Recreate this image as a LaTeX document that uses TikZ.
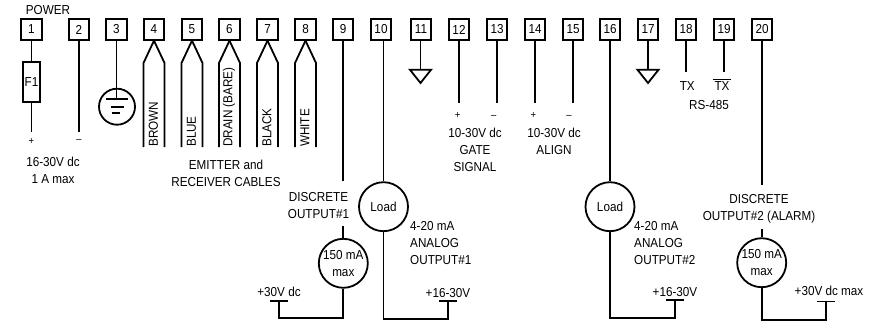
\documentclass[tikz,border=0pt]{standalone}
\usepackage{fontspec}
\setmainfont[FakeStretch=0.9]{Liberation Sans}
\usepackage{tikz}
\usetikzlibrary{calc}
\newcommand{\lbl}{\fontsize{13}{17}\selectfont}
\newcommand{\sgn}{\fontsize{10.5}{10.5}\selectfont}

\begin{document}
\begin{tikzpicture}[
		x=1pt, y=-1pt,
		wire/.style={line width=1.8pt, line join=miter},
		terminal/.style={draw, line width=1.8pt, minimum size=20.5pt, inner sep=0pt, font=\lbl},
		device/.style={draw, circle, line width=1.8pt, minimum size=49pt, inner sep=0pt, align=center, font=\lbl},
		txt/.style={inner sep=0pt, align=center, font=\lbl},
		txtl/.style={inner sep=0pt, align=left, font=\lbl}
	]
	\useasboundingbox (0,0) rectangle (872,329);

	\def\topY{29.5} % centre of the terminal row
	\def\barW{9} % half width of a supply bar

	% the terminals
	\foreach \n/\x in {1/31.5,2/79,3/116.5,4/154,5/192,6/229.5,7/267.5,8/305.5,9/343,10/381,
		11/421,12/459,13/497,14/535,15/573,16/610,17/648,18/686,19/724,20/762}
		\node[terminal] (t\n) at (\x,\topY) {\n};

	\node[txt] (power) at (48,10) {POWER};

	% power input
	\node[draw, line width=1.8pt, minimum width=17.5pt, minimum height=39.5pt, inner sep=0pt, font=\lbl] (fuse) at (31.5,82) {F1};
	\coordinate (end1) at (31.5,132);
	\coordinate (end2) at (79,132);
	\draw[wire] (t1.south) -- (fuse.north);
	\draw[wire] (fuse.south) -- (end1);
	\draw[wire] (t2.south) -- (end2);
	\node[txt] (plus1) at (31.5,141) {\sgn +};
	\node[txt] (minus2) at (79,141) {\sgn --};
	\node[txt] (supply) at (53,170) {16-30V dc\\1 A max};

	% earth
	\node[draw, circle, line width=1.8pt, minimum size=36pt, inner sep=0pt] (earth) at (117,106.7) {};
	\coordinate (bar3) at (116.5,99);
	\draw[wire] (t3.south) -- (bar3);
	\draw[wire] (106,99) -- (128.3,99);
	\draw[wire] (110.7,106.7) -- (124.3,106.7);
	\draw[wire] (111.7,113.3) -- (120,113.3);

	% the cable pairs
	\foreach \n/\x/\name in {4/154/BROWN,5/192/BLUE,6/229.5/DRAIN (BARE),7/267.5/BLACK,8/305.5/WHITE} {
		\coordinate (kl\n) at (\x-10.5,63);
		\coordinate (kr\n) at (\x+10.5,63);
		\coordinate (el\n) at (\x-10.5,147);
		\coordinate (er\n) at (\x+10.5,147);
		\draw[wire] (t\n.south) -- (kl\n) -- (el\n);
		\draw[wire] (t\n.south) -- (kr\n) -- (er\n);
		\node[txt, rotate=90, anchor=west] (name\n) at (\x-0.5,147) {\name};
	}
	\node[txt] (cables) at (226,173) {EMITTER and\\RECEIVER CABLES};

	% discrete output 1
	\node[device] (lim1) at (343.3,263.3) {150 mA\\max};
	\coordinate (gapA) at (343.3,181);
	\coordinate (gapB) at (343.3,226);
	\coordinate (corner1) at (343.3,318);
	\coordinate (supply1) at (279,318);
	\coordinate (bar1) at (279,300.7);
	\draw[wire] (t9.south) -- (t9.south |- gapA);
	\draw[wire] (gapB) -- (lim1.north);
	\draw[wire] (lim1.south) -- (corner1) -- (supply1) -- (bar1);
	\draw[wire] ($(bar1)+(-\barW,0)$) -- ($(bar1)+(\barW,0)$);
	\node[txt] (discA) at (318.5,205.5) {DISCRETE\\OUTPUT\#1};
	\node[txt] (volt1) at (279,292) {+30V dc};

	% analog output 1
	\node[device] (load1) at (383.5,206.7) {Load};
	\coordinate (corner2) at (383.5,319);
	\coordinate (supply2) at (448,319);
	\coordinate (bar2) at (448,301);
	\draw[wire] (load1.north |- t10.south) -- (load1.north);
	\draw[wire] (load1.south) -- (corner2) -- (supply2) -- (bar2);
	\draw[wire] ($(bar2)+(-\barW,0)$) -- ($(bar2)+(\barW,0)$);
	\node[txtl, anchor=west] (analogA) at (410,243.3) {4-20 mA\\ANALOG\\OUTPUT\#1};
	\node[txt] (volt2) at (448,293) {+16-30V};

	% grounds
	\foreach \n/\x in {11/420.5,17/648} {
		\coordinate (gl\n) at (\x-10.5,69.8);
		\coordinate (gr\n) at (\x+10.5,69.8);
		\coordinate (gt\n) at (\x,83);
		\draw[wire] (t\n.south -| gt\n) -- (\x,69.8);
		\draw[wire] (gl\n) -- (gr\n) -- (gt\n) -- cycle;
	}

	% gate and align inputs
	\foreach \n in {12,13,14,15} {
		\coordinate (end\n) at ($(t\n.south)+(0,62)$);
		\draw[wire] (t\n.south) -- (end\n);
	}
	\node[txt] (plus12) at (457.7,115.5) {\sgn +};
	\node[txt] (minus13) at (493.7,116.5) {\sgn --};
	\node[txt] (plus14) at (533.5,115.5) {\sgn +};
	\node[txt] (minus15) at (569,116.5) {\sgn --};
	\node[txt] (gate) at (475,149.5) {10-30V dc\\GATE\\SIGNAL};
	\node[txt] (align) at (554,141) {10-30V dc\\ALIGN};

	% analog output 2
	\node[device] (load2) at (610,206.7) {Load};
	\coordinate (corner3) at (610,318);
	\coordinate (supply3) at (675,318);
	\coordinate (bar4) at (675,300);
	\draw[wire] (t16.south) -- (load2.north);
	\draw[wire] (load2.south) -- (corner3) -- (supply3) -- (bar4);
	\draw[wire] ($(bar4)+(-\barW,0)$) -- ($(bar4)+(\barW,0)$);
	\node[txtl, anchor=west] (analogB) at (634,243.3) {4-20 mA\\ANALOG\\OUTPUT\#2};
	\node[txt] (volt4) at (675,291.7) {+16-30V};

	% serial link
	\coordinate (end18) at (686,72);
	\coordinate (end19) at (724,72);
	\draw[wire] (t18.south) -- (end18);
	\draw[wire] (t19.south) -- (end19);
	\node[txt] (tx) at (687.3,86) {TX};
	\node[txt] (txbar) at (722,86) {TX};
	\draw[line width=0.9pt] ($(txbar.north west)+(-1,-2)$) -- ($(txbar.north east)+(1,-2)$);
	\node[txt] (rs) at (709,105) {RS-485};

	% discrete output 2
	\node[device] (lim2) at (761.7,262.7) {150 mA\\max};
	\coordinate (gapC) at (761.7,185);
	\coordinate (gapD) at (761.7,229);
	\coordinate (corner4) at (761.7,320);
	\coordinate (supply4) at (825.7,320);
	\coordinate (bar5) at (825.7,301.5);
	\draw[wire] (t20.south) -- (t20.south |- gapC);
	\draw[wire] (gapD) -- (lim2.north);
	\draw[wire] (lim2.south) -- (corner4) -- (supply4) -- (bar5);
	\draw[wire] ($(bar5)+(-\barW,0)$) -- ($(bar5)+(\barW,0)$);
	\node[txt] (discB) at (759,208.5) {DISCRETE\\OUTPUT\#2 (ALARM)};
	\node[txt] (volt5) at (829,290.7) {+30V dc max};

\end{tikzpicture}
\end{document}
